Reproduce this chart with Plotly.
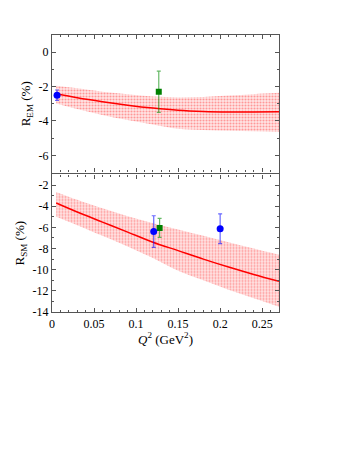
import plotly.graph_objects as go
from plotly.subplots import make_subplots

# model curves and uncertainty bands
q2_grid = [0.005, 0.03, 0.06, 0.09, 0.12, 0.15, 0.18, 0.21, 0.24, 0.27]

rem_curve = [-2.42, -2.65, -2.88, -3.08, -3.25, -3.38, -3.45, -3.48, -3.48, -3.47]
rem_upper = [-1.95, -2.1, -2.3, -2.45, -2.58, -2.63, -2.6, -2.52, -2.44, -2.36]
rem_lower = [-2.98, -3.3, -3.65, -3.95, -4.2, -4.45, -4.52, -4.57, -4.6, -4.64]

rsm_curve = [-3.7, -4.55, -5.5, -6.45, -7.4, -8.2, -9.0, -9.75, -10.45, -11.1]
rsm_upper = [-2.65, -3.4, -4.2, -4.95, -5.6, -6.2, -6.8, -7.4, -8.0, -8.6]
rsm_lower = [-5.0, -5.8, -6.8, -7.8, -8.9, -10.1, -11.0, -11.9, -12.7, -13.5]

# experimental points
rem_blue_x = [0.006]
rem_blue_y = [-2.5]
rem_blue_err = [0.3]
rem_green_x = [0.127]
rem_green_y = [-2.3]
rem_green_err = [1.2]

rsm_blue_x = [0.121, 0.2]
rsm_blue_y = [-6.4, -6.13]
rsm_blue_err = [1.5, 1.4]
rsm_green_x = [0.128]
rsm_green_y = [-6.05]
rsm_green_err = [0.9]

# tick labels (plain hyphen as in the original)
x_ticks = [0, 0.05, 0.1, 0.15, 0.2, 0.25]
x_ticktext = ["0", "0.05", "0.1", "0.15", "0.2", "0.25"]
rem_ticks = [0, -2, -4, -6]
rem_ticktext = ["0", "-2", "-4", "-6"]
rsm_ticks = [-2, -4, -6, -8, -10, -12, -14]
rsm_ticktext = ["-2", "-4", "-6", "-8", "-10", "-12", "-14"]

FONT = "Liberation Serif, Times New Roman, serif"

fig = make_subplots(rows=2, cols=1, shared_xaxes=True, vertical_spacing=0.007)

panels = [
    (1, rem_curve, rem_upper, rem_lower, rem_blue_x, rem_blue_y, rem_blue_err,
     rem_green_x, rem_green_y, rem_green_err),
    (2, rsm_curve, rsm_upper, rsm_lower, rsm_blue_x, rsm_blue_y, rsm_blue_err,
     rsm_green_x, rsm_green_y, rsm_green_err),
]

for row, curve, upper, lower, bx, by, be, gx, gy, ge in panels:
    fig.add_trace(go.Scatter(x=q2_grid, y=upper, mode="lines", line=dict(width=0, shape="spline"),
                             showlegend=False, hoverinfo="skip"), row=row, col=1)
    fig.add_trace(go.Scatter(
        x=q2_grid, y=lower, mode="lines", line=dict(width=0, shape="spline"), fill="tonexty",
        fillcolor="rgba(255,190,190,0.45)",
        fillpattern=dict(shape=".", fgcolor="rgba(255,20,20,0.75)",
                         bgcolor="rgba(255,205,205,0.5)", size=3, solidity=0.4),
        showlegend=False, hoverinfo="skip"), row=row, col=1)
    fig.add_trace(go.Scatter(x=q2_grid, y=curve, mode="lines",
                             line=dict(color="#ff0000", width=1.5, shape="spline"),
                             showlegend=False), row=row, col=1)
    fig.add_trace(go.Scatter(
        x=gx, y=gy, mode="markers",
        marker=dict(symbol="square", size=6, color="#008000"),
        error_y=dict(type="data", array=ge, color="rgba(0,140,0,0.6)", thickness=1.2, width=2),
        showlegend=False), row=row, col=1)
    fig.add_trace(go.Scatter(
        x=bx, y=by, mode="markers",
        marker=dict(symbol="circle", size=7, color="#0000ff"),
        error_y=dict(type="data", array=be, color="rgba(0,0,255,0.6)", thickness=1.2, width=2),
        showlegend=False), row=row, col=1)

axis_style = dict(
    showline=True, linecolor="#555555", linewidth=1.2, mirror="ticks",
    ticks="inside", ticklen=4, tickcolor="#555555", showgrid=False, zeroline=False,
    tickfont=dict(family=FONT, size=12, color="black"),
)

fig.update_xaxes(range=[0, 0.27], tickvals=x_ticks, ticktext=x_ticktext,
                 minor=dict(dtick=0.01, ticks="inside", ticklen=2, tickcolor="#555555"),
                 **axis_style)
fig.update_xaxes(showticklabels=False, row=1, col=1)
fig.update_xaxes(
    title=dict(text="<i>Q</i><sup>2</sup> (GeV<sup>2</sup>)", standoff=0,
               font=dict(family=FONT, size=13, color="black")),
    row=2, col=1)

fig.update_yaxes(minor=dict(dtick=1, ticks="inside", ticklen=2, tickcolor="#555555"),
                 **axis_style)
fig.update_yaxes(range=[-7, 1], tickvals=rem_ticks, ticktext=rem_ticktext, row=1, col=1,
                 title=dict(text="R<sub>EM</sub> (%)", standoff=4,
                            font=dict(family=FONT, size=13, color="black")))
fig.update_yaxes(range=[-14, -1], tickvals=rsm_ticks, ticktext=rsm_ticktext, row=2, col=1,
                 title=dict(text="R<sub>SM</sub> (%)", standoff=4,
                            font=dict(family=FONT, size=13, color="black")))

fig.update_layout(
    width=349, height=451,
    margin=dict(l=44, r=78, t=27, b=147),
    plot_bgcolor="white", paper_bgcolor="white",
    showlegend=False,
)

fig.write_html("out.html")
